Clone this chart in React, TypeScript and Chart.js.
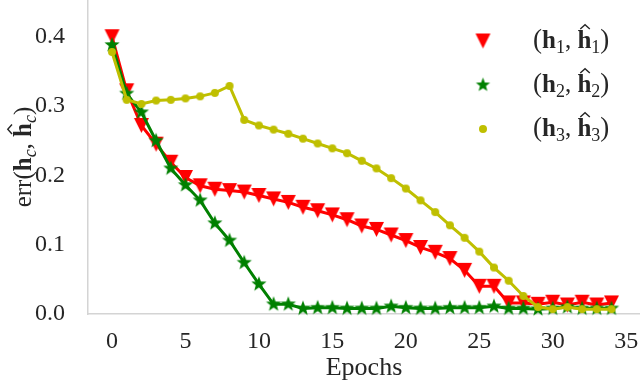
import React, { useEffect, useRef } from "react";
import { Chart, registerables } from "chart.js";
Chart.register(...registerables);

const epochs = [0, 1, 2, 3, 4, 5, 6, 7, 8, 9, 10, 11, 12, 13, 14, 15, 16, 17, 18, 19, 20, 21, 22, 23, 24, 25, 26, 27, 28, 29, 30, 31, 32, 33, 34];
const errH1 = [0.400, 0.322, 0.272, 0.245, 0.219, 0.197, 0.185, 0.180, 0.178, 0.176, 0.171, 0.166, 0.161, 0.154, 0.149, 0.143, 0.136, 0.127, 0.122, 0.114, 0.106, 0.096, 0.089, 0.080, 0.063, 0.040, 0.040, 0.016, 0.016, 0.014, 0.017, 0.013, 0.017, 0.013, 0.016];
const errH2 = [0.388, 0.318, 0.291, 0.250, 0.210, 0.186, 0.164, 0.131, 0.106, 0.074, 0.043, 0.014, 0.014, 0.008, 0.009, 0.009, 0.008, 0.008, 0.008, 0.011, 0.009, 0.008, 0.008, 0.009, 0.009, 0.009, 0.011, 0.008, 0.008, 0.007, 0.008, 0.010, 0.008, 0.008, 0.008];
const errH3 = [0.378, 0.309, 0.303, 0.308, 0.309, 0.311, 0.314, 0.319, 0.329, 0.280, 0.272, 0.266, 0.260, 0.253, 0.246, 0.239, 0.232, 0.221, 0.210, 0.196, 0.181, 0.164, 0.147, 0.128, 0.110, 0.090, 0.067, 0.048, 0.026, 0.010, 0.007, 0.010, 0.007, 0.007, 0.007];
const xTicks = [0, 5, 10, 15, 20, 25, 30, 35];
const yTicks = [0.0, 0.1, 0.2, 0.3, 0.4];
const seriesSubs = ["1", "2", "3"];
const seriesColors = ["#ff0000", "#008000", "#bfbf00"];
const xTitle = "Epochs";

const SERIF = '"Liberation Serif", "Times New Roman", serif';
const TEXT = "#262626";

type Seg = { t: string; size: number; weight?: string; style?: string; dy?: number; hat?: boolean };

function fontOf(s: Seg) {
  return `${s.style || "normal"} ${s.weight || "normal"} ${s.size}px ${SERIF}`;
}

function drawRich(ctx: CanvasRenderingContext2D, segs: Seg[], x: number, y: number, align: "left" | "center") {
  const widths: number[] = [];
  let total = 0;
  for (const s of segs) {
    ctx.font = fontOf(s);
    const w = ctx.measureText(s.t).width;
    widths.push(w);
    total += w;
  }
  let cx = align === "center" ? x - total / 2 : x;
  ctx.textBaseline = "alphabetic";
  ctx.textAlign = "left";
  ctx.fillStyle = TEXT;
  segs.forEach((s, i) => {
    ctx.font = fontOf(s);
    ctx.fillText(s.t, cx, y + (s.dy || 0));
    if (s.hat) {
      const hx = cx + widths[i] * 0.55;
      const top = y - s.size * 0.7 - 1.5;
      ctx.beginPath();
      ctx.moveTo(hx - s.size * 0.19, top);
      ctx.lineTo(hx, top - s.size * 0.17);
      ctx.lineTo(hx + s.size * 0.19, top);
      ctx.strokeStyle = TEXT;
      ctx.lineWidth = 1.4;
      ctx.stroke();
    }
    cx += widths[i];
  });
}

function makeTriangle(color: string, w: number, h: number) {
  const c = document.createElement("canvas");
  c.width = w + 2;
  c.height = h + 2;
  const g = c.getContext("2d")!;
  g.fillStyle = color;
  g.beginPath();
  g.moveTo(1, 1);
  g.lineTo(w + 1, 1);
  g.lineTo(w / 2 + 1, h + 1);
  g.closePath();
  g.fill();
  return c;
}

function makeStar(color: string, R: number) {
  const size = Math.ceil(2 * R + 2);
  const c = document.createElement("canvas");
  c.width = size;
  c.height = size;
  const g = c.getContext("2d")!;
  const cx = size / 2, cy = size / 2;
  const r = R * 0.42;
  g.fillStyle = color;
  g.beginPath();
  for (let k = 0; k < 10; k++) {
    const rad = k % 2 === 0 ? R : r;
    const a = -Math.PI / 2 + (k * Math.PI) / 5;
    const px = cx + rad * Math.cos(a);
    const py = cy + rad * Math.sin(a);
    if (k === 0) g.moveTo(px, py);
    else g.lineTo(px, py);
  }
  g.closePath();
  g.fill();
  return c;
}

function makeCircle(color: string, r: number) {
  const size = Math.ceil(2 * r + 2);
  const c = document.createElement("canvas");
  c.width = size;
  c.height = size;
  const g = c.getContext("2d")!;
  g.fillStyle = color;
  g.beginPath();
  g.arc(size / 2, size / 2, r, 0, Math.PI * 2);
  g.fill();
  return c;
}

export default function App() {
  const ref = useRef<HTMLCanvasElement | null>(null);

  useEffect(() => {
    if (!ref.current) return;
    const tri = makeTriangle(seriesColors[0], 15, 15);
    const star = makeStar(seriesColors[1], 8);
    const dot = makeCircle(seriesColors[2], 4);
    const legendMarkers = [tri, makeStar(seriesColors[1], 7.5), makeCircle(seriesColors[2], 4)];

    const overlay = {
      id: "overlay",
      afterDraw(chart: any) {
        const ctx = chart.ctx as CanvasRenderingContext2D;
        ctx.save();
        // y-axis title
        ctx.translate(31, 157);
        ctx.rotate(-Math.PI / 2);
        drawRich(ctx, [
          { t: "err(", size: 25 },
          { t: "h", size: 25, weight: "bold" },
          { t: "c", size: 18, style: "italic", dy: 5 },
          { t: ", ", size: 25 },
          { t: "h", size: 25, weight: "bold", hat: true },
          { t: "c", size: 18, style: "italic", dy: 5 },
          { t: ")", size: 25 },
        ], 0, 0, "center");
        ctx.restore();

        // legend
        const rows = [41, 85, 129];
        ctx.save();
        rows.forEach((ry, i) => {
          const m = legendMarkers[i];
          ctx.drawImage(m, 483 - m.width / 2, ry - m.height / 2);
          const sub = seriesSubs[i];
          drawRich(ctx, [
            { t: "(", size: 27 },
            { t: "h", size: 25, weight: "bold" },
            { t: sub, size: 18, dy: 5 },
            { t: ", ", size: 25 },
            { t: "h", size: 25, weight: "bold", hat: true },
            { t: sub, size: 18, dy: 5 },
            { t: ")", size: 27 },
          ], 533, ry + 7, "left");
        });
        ctx.restore();
      },
    };

    const chart = new Chart(ref.current, {
      type: "line",
      data: {
        labels: epochs,
        datasets: [
          {
            label: "h1",
            data: epochs.map((e, i) => ({ x: e, y: errH1[i] })),
            borderColor: seriesColors[0],
            backgroundColor: seriesColors[0],
            borderWidth: 3,
            pointStyle: tri as any,
            pointRadius: 7,
            order: 3,
            clip: false as any,
          },
          {
            label: "h2",
            data: epochs.map((e, i) => ({ x: e, y: errH2[i] })),
            borderColor: seriesColors[1],
            backgroundColor: seriesColors[1],
            borderWidth: 3,
            pointStyle: star as any,
            pointRadius: 7,
            order: 2,
            clip: false as any,
          },
          {
            label: "h3",
            data: epochs.map((e, i) => ({ x: e, y: errH3[i] })),
            borderColor: seriesColors[2],
            backgroundColor: seriesColors[2],
            borderWidth: 3,
            pointStyle: dot as any,
            pointRadius: 4,
            order: 1,
            clip: false as any,
          },
        ],
      },
      options: {
        animation: false,
        responsive: false,
        maintainAspectRatio: false,
        layout: { padding: 0, autoPadding: false },
        plugins: { legend: { display: false }, tooltip: { enabled: false } },
        scales: {
          x: {
            type: "linear",
            min: -1.634,
            max: 35.94,
            grid: { display: false },
            border: { display: true, color: "#d4d4d4", width: 1.5 },
            afterBuildTicks: (s: any) => {
              s.ticks = xTicks.map((v) => ({ value: v }));
            },
            afterFit: (s: any) => {
              s.height = 70;
              s.paddingLeft = 0;
              s.paddingRight = 0;
            },
            ticks: {
              color: TEXT,
              padding: 5,
              font: { family: SERIF, size: 24 },
              callback: (v: any) => String(v),
            },
            title: {
              display: true,
              text: xTitle,
              color: TEXT,
              font: { family: SERIF, size: 26 },
              padding: { top: 0, bottom: 0 },
            },
          },
          y: {
            type: "linear",
            min: 0,
            max: 0.453,
            grid: { display: false },
            border: { display: true, color: "#d4d4d4", width: 1.5 },
            afterBuildTicks: (s: any) => {
              s.ticks = yTicks.map((v) => ({ value: v }));
            },
            afterFit: (s: any) => {
              s.width = 88;
              s.paddingTop = 0;
              s.paddingBottom = 0;
            },
            ticks: {
              color: TEXT,
              padding: 15,
              font: { family: SERIF, size: 24 },
              callback: (v: any) => Number(v).toFixed(1),
            },
          },
        },
      },
      plugins: [overlay],
    });
    return () => chart.destroy();
  }, []);

  return (
    <div style={{ position: "fixed", left: 0, top: 0, width: 640, height: 384, background: "#fff" }}>
      <canvas ref={ref} width={640} height={384} style={{ display: "block", width: 640, height: 384 }} />
    </div>
  );
}
